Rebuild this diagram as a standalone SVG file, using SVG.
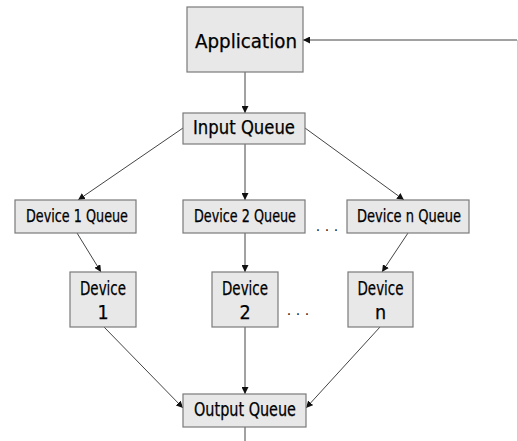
<svg xmlns="http://www.w3.org/2000/svg" width="518" height="441" viewBox="0 0 518 441">
  <style>
    .box { fill: #e8e8e8; stroke: #7a7a7a; stroke-width: 1.2; }
    .lbl { font-family: "DejaVu Sans Condensed", "DejaVu Sans", sans-serif; fill: #000; text-anchor: middle; stroke: #000; stroke-width: 0.25; }
    .big { font-size: 19.5px; }
    .mid { font-size: 17px; }
    .edge { stroke: #444; stroke-width: 1; fill: none; marker-end: url(#arr); }
    .dots { font-family: "DejaVu Sans", sans-serif; font-size: 14px; fill: #222; text-anchor: middle; }
  </style>
  <defs>
    <marker id="arr" viewBox="0 0 10 10" refX="10" refY="5" markerWidth="7" markerHeight="7" markerUnits="userSpaceOnUse" orient="auto">
      <path d="M0,0 L10,5 L0,10 z" fill="#111"/>
    </marker>
  </defs>
  <rect width="518" height="441" fill="#fff"/>

  <g id="connectors">
    <line class="edge" x1="245" y1="72" x2="245" y2="113"/>
    <line class="edge" x1="183" y1="128" x2="78" y2="200"/>
    <line class="edge" x1="245" y1="144" x2="245" y2="200"/>
    <line class="edge" x1="305" y1="128" x2="404" y2="200"/>
    <line class="edge" x1="77" y1="233" x2="101" y2="272"/>
    <line class="edge" x1="245" y1="233" x2="245" y2="272"/>
    <line class="edge" x1="408" y1="233" x2="382" y2="272"/>
    <line class="edge" x1="104" y1="327" x2="183" y2="408"/>
    <line class="edge" x1="245" y1="327" x2="245" y2="394"/>
    <line class="edge" x1="380" y1="327" x2="306" y2="408"/>
    <line x1="245" y1="427" x2="245" y2="441" stroke="#444" stroke-width="1"/>
    <line x1="517.5" y1="40" x2="517.5" y2="441" stroke="#cfcfcf" stroke-width="1"/>
    <line class="edge" x1="517" y1="40" x2="303" y2="40"/>
  </g>

  <g id="application">
    <rect class="box" x="187" y="7" width="116" height="65"/>
    <text class="lbl big" x="246" y="47.5" textLength="102" lengthAdjust="spacingAndGlyphs">Application</text>
  </g>
  <g id="input-queue">
    <rect class="box" x="183" y="113" width="122" height="31"/>
    <text class="lbl big" x="244" y="133.5" textLength="102" lengthAdjust="spacingAndGlyphs">Input Queue</text>
  </g>
  <g id="device1-queue">
    <rect class="box" x="15" y="200" width="121" height="33"/>
    <text class="lbl mid" x="77" y="222" textLength="102" lengthAdjust="spacingAndGlyphs">Device 1 Queue</text>
  </g>
  <g id="device2-queue">
    <rect class="box" x="183" y="200" width="122" height="33"/>
    <text class="lbl mid" x="245" y="222" textLength="102" lengthAdjust="spacingAndGlyphs">Device 2 Queue</text>
  </g>
  <g id="devicen-queue">
    <rect class="box" x="347" y="200" width="122" height="33"/>
    <text class="lbl mid" x="409" y="222" textLength="104" lengthAdjust="spacingAndGlyphs">Device n Queue</text>
  </g>
  <g id="device1">
    <rect class="box" x="70" y="272" width="66" height="55"/>
    <text class="lbl big" x="103" y="295" textLength="46" lengthAdjust="spacingAndGlyphs">Device</text>
    <text class="lbl big" x="103" y="319">1</text>
  </g>
  <g id="device2">
    <rect class="box" x="212" y="272" width="66" height="55"/>
    <text class="lbl big" x="245" y="295" textLength="46" lengthAdjust="spacingAndGlyphs">Device</text>
    <text class="lbl big" x="245" y="319">2</text>
  </g>
  <g id="devicen">
    <rect class="box" x="348" y="272" width="65" height="55"/>
    <text class="lbl big" x="380.5" y="295" textLength="46" lengthAdjust="spacingAndGlyphs">Device</text>
    <text class="lbl big" x="380.5" y="319">n</text>
  </g>
  <g id="output-queue">
    <rect class="box" x="183" y="394" width="123" height="33"/>
    <text class="lbl big" x="245" y="416" textLength="102" lengthAdjust="spacingAndGlyphs">Output Queue</text>
  </g>

  <text class="dots" x="327" y="231">. . .</text>
  <text class="dots" x="298" y="315">. . .</text>
</svg>
